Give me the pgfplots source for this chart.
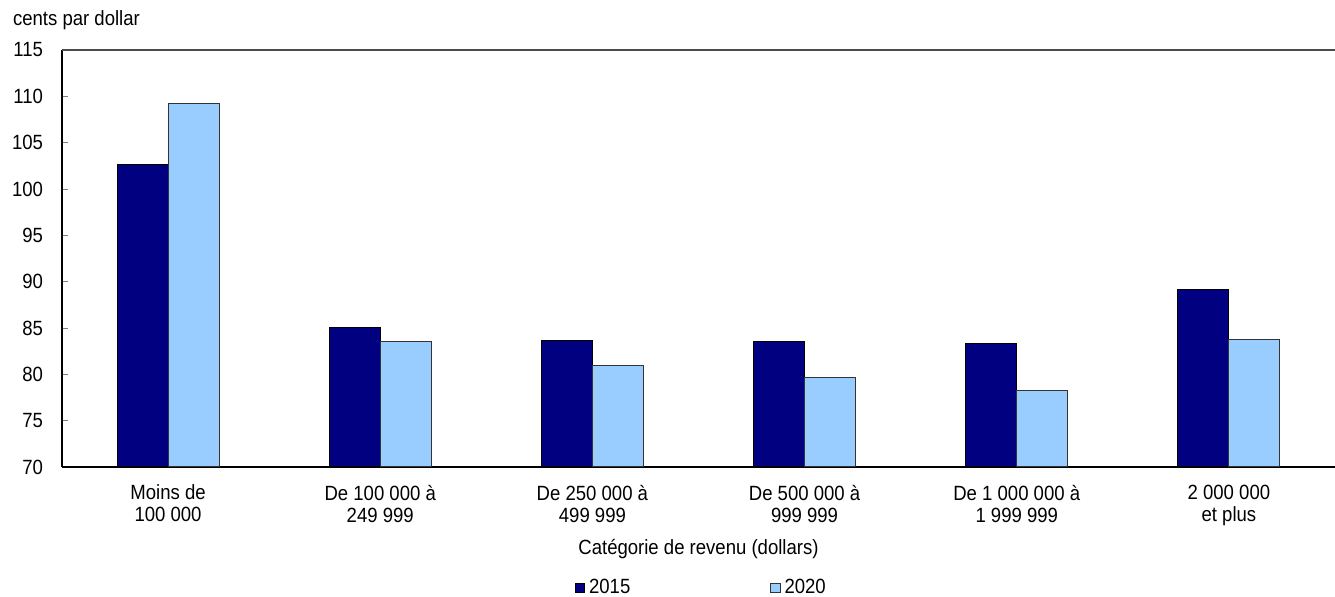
\documentclass[border=0pt]{standalone}
\usepackage{fontspec}
\setmainfont{Liberation Sans}[FakeStretch=0.9]
\usepackage{pgfplots}
\pgfplotsset{compat=1.18}
\definecolor{navy}{HTML}{000080}
\definecolor{sky}{HTML}{99CCFF}

\begin{document}
\begin{tikzpicture}[every node/.style={font=\fontsize{10.3}{11}\selectfont}]
  \begin{axis}[
      name=ax,
      at={(0,0)}, anchor=south west,
      scale only axis,
      width=636.5pt, height=208.5pt,
      font=\fontsize{10.3}{11}\selectfont,
      /pgf/number format/assume math mode=true,
      axis x line*=bottom, axis y line*=left,
      axis line style={-, line width=0.6pt},
      xmin=-0.5, xmax=5.5,
      ymin=70, ymax=115,
      ytick={70,75,...,115},
      xtick={0,1,2,3,4,5},
      xticklabels={{Moins de\\100 000},{De 100 000 à\\249 999},{De 250 000 à\\499 999},
                   {De 500 000 à\\999 999},{De 1 000 000 à\\1 999 999},{2 000 000\\et plus}},
      xticklabel style={align=center, yshift=-2.5pt},
      yticklabel style={xshift=-6pt},
      major x tick style={draw=none},
      tick align=inside,
      major tick length=3pt,
      ybar, bar width=0.24,
      legend columns=2,
      legend style={at={(axis description cs:0.503,-0.29)}, anchor=center, draw=none,
                    font=\fontsize{11}{12}\selectfont,
                    /tikz/every even column/.append style={column sep=68pt}},
      legend image code/.code={\draw[#1, line width=0.3pt] (0pt,-2.4pt) rectangle (4.8pt,2.4pt);},
    ]
    \addplot[fill=navy, draw=black, line width=0.5pt, bar shift=-0.12] coordinates {
      (0,102.6) (1,85.1) (2,83.6) (3,83.5) (4,83.3) (5,89.2)
    };
    \addplot[fill=sky, draw=black!80, line width=0.5pt, bar shift=0.12] coordinates {
      (0,109.2) (1,83.5) (2,80.9) (3,79.7) (4,78.3) (5,83.8)
    };
    \legend{2015,2020}
    \draw[black!70, line width=0.8pt] (rel axis cs:0,1) -- (rel axis cs:1,1);
  \end{axis}
  \node[anchor=west] at ([xshift=-28pt, yshift=15pt]ax.north west) {cents par dollar};
  \node at ([yshift=-41pt]ax.south) {Catégorie de revenu (dollars)};
  \pgfresetboundingbox
  \path[use as bounding box] (-31pt,-65pt) rectangle (636.5pt,233.5pt);
\end{tikzpicture}
\end{document}
